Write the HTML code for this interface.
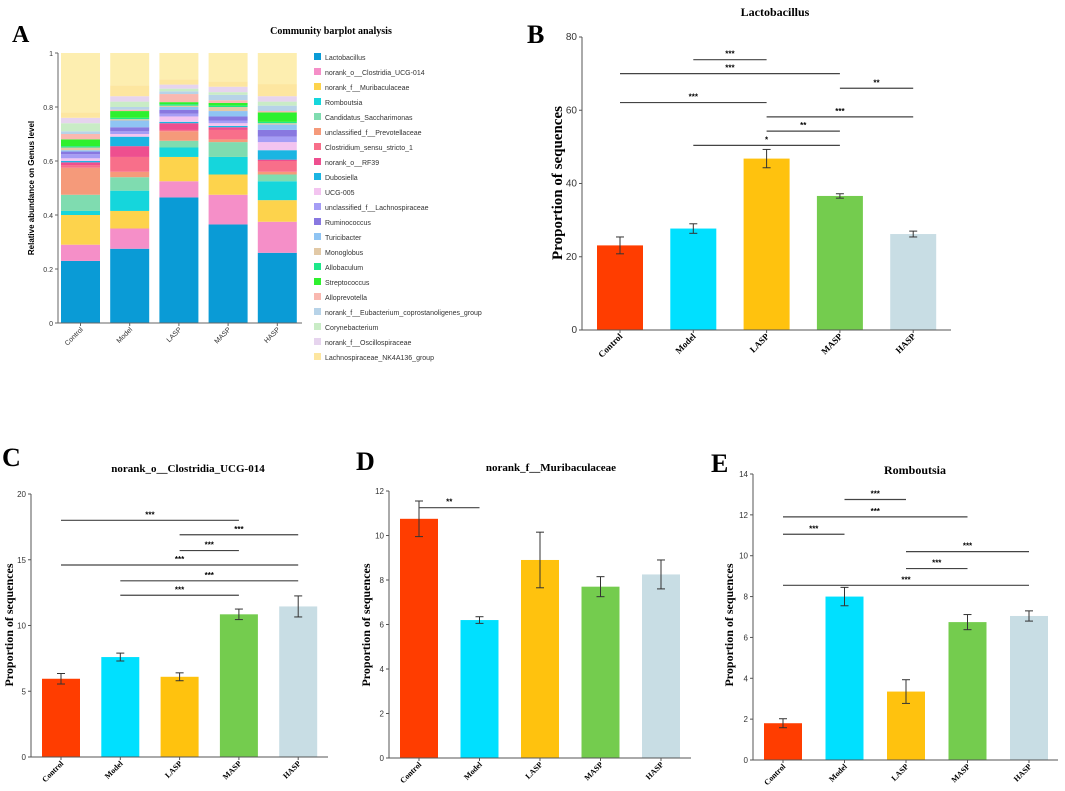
<!DOCTYPE html>
<html><head><meta charset="utf-8"><style>
html,body{margin:0;padding:0;background:#fff}
svg{display:block}
</style></head><body>
<svg id="fig" width="1065" height="791" viewBox="0 0 1065 791" xmlns="http://www.w3.org/2000/svg"></svg>
<script>
// ---------- Panel A data ----------
const groupsA = ["Control","Model","LASP","MASP","HASP"];
const taxaA = ["Lactobacillus","norank_o__Clostridia_UCG-014","norank_f__Muribaculaceae","Romboutsia","Candidatus_Saccharimonas","unclassified_f__Prevotellaceae","Clostridium_sensu_stricto_1","norank_o__RF39","Dubosiella","UCG-005","unclassified_f__Lachnospiraceae","Ruminococcus","Turicibacter","Monoglobus","Allobaculum","Streptococcus","Alloprevotella","norank_f__Eubacterium_coprostanoligenes_group","Corynebacterium","norank_f__Oscillospiraceae","Lachnospiraceae_NK4A136_group","others"];
const abundControl = [0.23,0.06,0.11,0.015,0.06,0.10,0.01,0.01,0.005,0.01,0.015,0.01,0.005,0.01,0.005,0.025,0.02,0.01,0.03,0.02,0.02,0.22];
const abundModel   = [0.275,0.075,0.065,0.075,0.05,0.02,0.055,0.04,0.035,0.01,0.01,0.015,0.025,0.005,0.005,0.025,0.005,0.01,0.02,0.02,0.04,0.12];
const abundLASP    = [0.465,0.06,0.09,0.035,0.025,0.035,0.005,0.025,0.005,0.02,0.01,0.015,0.01,0.005,0.005,0.008,0.03,0.01,0.01,0.015,0.02,0.097];
const abundMASP    = [0.365,0.11,0.075,0.065,0.055,0.01,0.035,0.01,0.005,0.01,0.01,0.015,0.02,0.015,0.005,0.01,0.01,0.02,0.01,0.02,0.02,0.105];
const abundHASP    = [0.26,0.115,0.08,0.07,0.025,0.01,0.04,0.005,0.035,0.03,0.02,0.025,0.02,0.005,0.005,0.035,0.005,0.02,0.015,0.02,0.045,0.115];
const ticksA = [0,0.2,0.4,0.6,0.8,1];
// ---------- Panel B-E data ----------
const groups = ["Control","Model","LASP","MASP","HASP"];
const lactoMean = [23.1,27.7,46.8,36.6,26.2];
const lactoErr  = [2.3,1.3,2.5,0.6,0.8];
const lactoTicks = [0,20,40,60,80];
const lactoSig = [[1,2,73.8,"***"],[0,3,70,"***"],[3,4,66,"**"],[0,2,62.1,"***"],[2,4,58.2,"***"],[2,3,54.3,"**"],[1,3,50.4,"*"]];
const closMean = [5.95,7.6,6.1,10.85,11.45];
const closErr  = [0.4,0.3,0.3,0.4,0.8];
const closTicks = [0,5,10,15,20];
const closSig = [[0,3,18.0,"***"],[2,4,16.9,"***"],[2,3,15.7,"***"],[0,4,14.6,"***"],[1,4,13.4,"***"],[1,3,12.3,"***"]];
const muriMean = [10.75,6.2,8.9,7.7,8.25];
const muriErr  = [0.8,0.15,1.25,0.45,0.65];
const muriTicks = [0,2,4,6,8,10,12];
const muriSig = [[0,1,11.25,"**"]];
const romMean = [1.8,8.0,3.35,6.75,7.05];
const romErr  = [0.22,0.45,0.58,0.37,0.25];
const romTicks = [0,2,4,6,8,10,12,14];
const romSig = [[1,2,12.75,"***"],[0,3,11.9,"***"],[0,1,11.05,"***"],[2,4,10.2,"***"],[2,3,9.37,"***"],[0,4,8.55,"***"]];

const taxaColors = ["#0a9bd6","#f58fc8","#fdd34c","#15d6dc","#7fdcb0","#f59a7a","#f86f8a","#ee4f8f","#1bb5e2","#f3c4f0","#a59df5","#8878e0","#8fc4f3","#e2c9a6","#1ee88a","#2ef02e","#f9b8b0","#b7d3e8","#c9ecc6","#e6d4ee","#fde6a0","#fdeeb0"];
const barColors = ["#ff3d00","#00e0ff","#ffc20e","#74cc4e","#c8dde4"];

const NS="http://www.w3.org/2000/svg";
const svg=document.getElementById('fig');
function mk(tag,attrs,parent,text){const e=document.createElementNS(NS,tag);for(const k in attrs)e.setAttribute(k,attrs[k]);if(text!==undefined)e.textContent=text;(parent||svg).appendChild(e);return e;}
const SERIF='"Liberation Serif", serif', SANS='"Liberation Sans", sans-serif';

// ---------- Panel A ----------
(function(){
  const g=mk('g',{});
  
  
  const x0=58,x1=302,y0=323,yT=53,c0=80.5,step=49.2,bw=39;
  const Y=v=>y0-(y0-yT)*v;
  const L=mk('text',{x:12,y:42,'font-family':SERIF,'font-size':24,'font-weight':'bold'},g,'A');
  
  const t=mk('text',{x:331,y:34,'text-anchor':'middle','font-family':SERIF,'font-size':10,'font-weight':'bold'},g,'Community barplot analysis');
  
  const data=[abundControl,abundModel,abundLASP,abundMASP,abundHASP];
  data.forEach((arr,gi)=>{
    let cum=0;const cx=c0+gi*step;
    arr.forEach((v,ti)=>{
      const top=Math.min(cum+v,1);
      const r=mk('rect',{x:cx-bw/2,y:Y(top),width:bw,height:Math.max(0,Y(cum)-Y(top)),fill:taxaColors[ti]},g);
      
      
      cum=top;
    });
    const lb=mk('text',{transform:`translate(${cx+3},${y0+7}) rotate(-45)`,'text-anchor':'end','font-family':SANS,'font-size':7,fill:'#333'},g,groupsA[gi]);
    
    mk('line',{x1:cx,x2:cx,y1:y0,y2:y0+3,stroke:'#666'},g);
  });
  mk('line',{x1:x0,x2:x0,y1:yT,y2:y0,stroke:'#666'},g);
  mk('line',{x1:x0,x2:x1,y1:y0,y2:y0,stroke:'#666'},g);
  ticksA.forEach(v=>{
    mk('line',{x1:x0-3,x2:x0,y1:Y(v),y2:Y(v),stroke:'#666'},g);
    const tk=mk('text',{x:x0-5,y:Y(v)+3,'text-anchor':'end','font-family':SANS,'font-size':7,fill:'#333'},g,String(v));
    
  });
  const yl=mk('text',{transform:`translate(34,188) rotate(-90)`,'text-anchor':'middle','font-family':SANS,'font-size':8,'font-weight':'bold'},g,'Relative abundance on Genus level');
  
  taxaA.slice(0,21).forEach((n,i)=>{
    const y=57+i*15;
    const it=mk('g',{},g);
    
    
    mk('rect',{x:314,y:y-4,width:7,height:7,fill:taxaColors[i]},it);
    mk('text',{x:325,y:y+3,'font-family':SANS,'font-size':7,fill:'#333'},it,n);
  });
})();

// ---------- Bar panels ----------
function barPanel(o){
  const g=mk('g',{});
  
  
  const Y=v=>o.y0-(o.y0-o.yT)*v/o.max;
  const C=i=>o.c0+i*o.step;
  const L=mk('text',{x:o.lx,y:o.ly,'font-family':SERIF,'font-size':26,'font-weight':'bold'},g,o.id.toUpperCase());
  
  const t=mk('text',{x:o.tx,y:o.ty,'text-anchor':'middle','font-family':SERIF,'font-size':o.tfs,'font-weight':'bold'},g,o.title);
  
  o.mean.forEach((v,i)=>{
    const b=mk('rect',{x:C(i)-o.bw/2,y:Y(v),width:o.bw,height:o.y0-Y(v),fill:barColors[i]},g);
    
    
    const e=o.err[i],eg=mk('g',{stroke:'#333','stroke-width':1},g);
    
    
    mk('line',{x1:C(i),x2:C(i),y1:Y(v+e),y2:Y(v-e)},eg);
    mk('line',{x1:C(i)-4,x2:C(i)+4,y1:Y(v+e),y2:Y(v+e)},eg);
    mk('line',{x1:C(i)-4,x2:C(i)+4,y1:Y(v-e),y2:Y(v-e)},eg);
    mk('line',{x1:C(i),x2:C(i),y1:o.y0,y2:o.y0+3,stroke:'#555'},g);
    const lb=mk('text',{transform:`translate(${C(i)+3},${o.y0+7}) rotate(-45)`,'text-anchor':'end','font-family':SERIF,'font-size':o.xfs,'font-weight':'bold'},g,groups[i]);
    
  });
  mk('line',{x1:o.x0,x2:o.x0,y1:o.yT,y2:o.y0,stroke:'#555'},g);
  mk('line',{x1:o.x0,x2:o.x1,y1:o.y0,y2:o.y0,stroke:'#555'},g);
  o.ticks.forEach(v=>{
    mk('line',{x1:o.x0-3,x2:o.x0,y1:Y(v),y2:Y(v),stroke:'#555'},g);
    const tk=mk('text',{x:o.x0-5,y:Y(v)+3,'text-anchor':'end','font-family':SANS,'font-size':o.tkfs,fill:'#333'},g,String(v));
    
  });
  const yl=mk('text',{transform:`translate(${o.ylx},${o.yly}) rotate(-90)`,'text-anchor':'middle','font-family':SERIF,'font-size':o.ylfs,'font-weight':'bold'},g,'Proportion of sequences');
  
  o.sig.forEach(s=>{
    const sg=mk('g',{},g);
    
    
    mk('line',{x1:C(s[0]),x2:C(s[1]),y1:Y(s[2]),y2:Y(s[2]),stroke:'#444','stroke-width':1.2},sg);
    mk('text',{x:(C(s[0])+C(s[1]))/2,y:Y(s[2])-3,'text-anchor':'middle','font-family':SANS,'font-size':8,'font-weight':'bold'},sg,s[3]);
  });
}
barPanel({id:'b',title:'Lactobacillus',mean:lactoMean,err:lactoErr,ticks:lactoTicks,sig:lactoSig,max:80,
  x0:582,x1:951,y0:330,yT:37,c0:620,step:73.3,bw:46,lx:527,ly:43,tx:775,ty:16,tfs:12,ylx:562,yly:183,ylfs:15,tkfs:10,xfs:9});
barPanel({id:'c',title:'norank_o__Clostridia_UCG-014',mean:closMean,err:closErr,ticks:closTicks,sig:closSig,max:20,
  x0:31,x1:328,y0:757,yT:494,c0:61,step:59.3,bw:38,lx:2,ly:466,tx:188,ty:472,tfs:11,ylx:13,yly:625,ylfs:12,tkfs:8,xfs:8});
barPanel({id:'d',title:'norank_f__Muribaculaceae',mean:muriMean,err:muriErr,ticks:muriTicks,sig:muriSig,max:12,
  x0:389,x1:691,y0:758,yT:491,c0:419,step:60.5,bw:38,lx:356,ly:470,tx:551,ty:471,tfs:11,ylx:370,yly:625,ylfs:12,tkfs:8,xfs:8});
barPanel({id:'e',title:'Romboutsia',mean:romMean,err:romErr,ticks:romTicks,sig:romSig,max:14,
  x0:753,x1:1058,y0:760,yT:474,c0:783,step:61.5,bw:38,lx:711,ly:472,tx:915,ty:474,tfs:12,ylx:733,yly:625,ylfs:12,tkfs:8,xfs:8});
</script>
</body></html>
